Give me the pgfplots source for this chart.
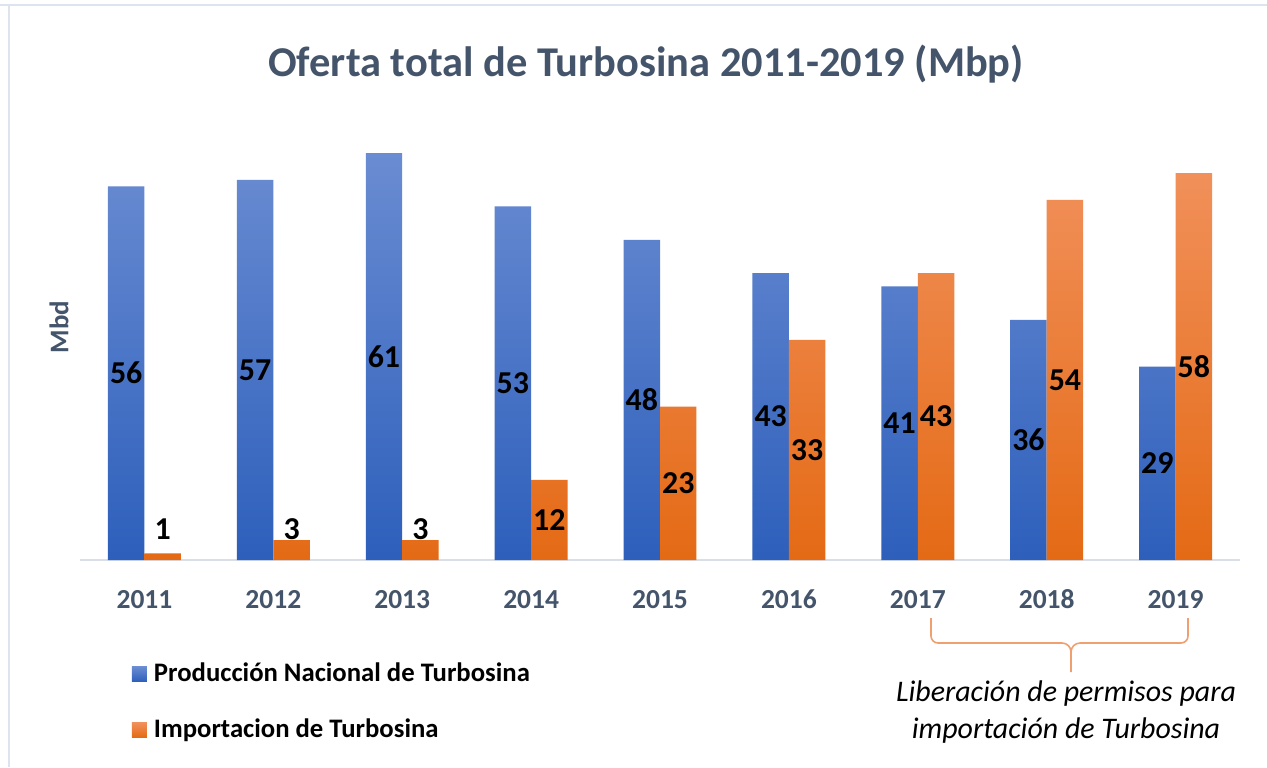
\documentclass[border=0pt]{standalone}
\usepackage{pgfplots}
\pgfplotsset{compat=1.18}
\usepackage{fontspec}
\setmainfont{Carlito}
\definecolor{slate}{HTML}{44546A}
\definecolor{bluetop}{HTML}{6A8CD2}
\definecolor{bluebot}{HTML}{2D5FBB}
\definecolor{orgtop}{HTML}{F1905A}
\definecolor{orgbot}{HTML}{E46A15}
\definecolor{frame}{HTML}{DEE4ED}
\definecolor{axline}{HTML}{D9DEE7}
\definecolor{brace}{HTML}{F0A070}

\pgfplotstableread{
x prod imp
0 56 1
1 57 3
2 61 3
3 53 12
4 48 23
5 43 33
6 41 43
7 36 54
8 29 58
}\datatable

\begin{document}
\begin{tikzpicture}
\begin{scope}[x=0.5bp,y=-0.5bp]
  \path[use as bounding box] (0,0) rectangle (1267,767);
  \fill[white] (0,0) rectangle (1267,767);
  \draw[frame, line width=1bp] (0,5) -- (1267,5);
  \draw[frame, line width=1bp] (9,5) -- (9,767);
  \node[anchor=base, text=slate, font=\fontsize{21.3}{25}\selectfont\bfseries] at (646,76) {Oferta total de Turbosina 2011-2019 (Mbp)};
  \node[rotate=90, anchor=center, text=slate, font=\fontsize{13.5}{16}\selectfont\bfseries] at (59,327) {Mbd};
  % brace annotation
  \draw[brace, line width=0.8bp] (931,618) -- (931,636) to[out=-90,in=180] (938,643) -- (1062,643) to[out=0,in=90] (1071,652) -- (1071,672);
  \draw[brace, line width=0.8bp] (1188,618) -- (1188,636) to[out=-90,in=0] (1181,643) -- (1080,643) to[out=180,in=90] (1071,652);
  \node[anchor=center, align=center, font=\fontsize{15}{18.5}\selectfont\itshape] at (1066,712) {Liberación de permisos para\\importación de Turbosina};
\end{scope}
\begin{axis}[
  at={(40bp,-280bp)}, anchor=south west,
  scale only axis, width=580bp, height=233.5bp,
  xmin=-0.5, xmax=8.5, ymin=0, ymax=70,
  axis y line=none,
  axis x line=bottom,
  x axis line style={draw=axline, line width=1bp, -},
  xtick={0,...,8},
  xticklabels={2011,2012,2013,2014,2015,2016,2017,2018,2019},
  major tick length=0pt,
  xticklabel style={anchor=base, yshift=-24bp, text=slate, font=\fontsize{13.8}{16}\selectfont\bfseries},
  /pgf/number format/assume math mode=true,
  bar width=0.283,
  nodes near coords,
  visualization depends on={y \as \rawy},
  every node near coord/.append style={anchor=center, text=black, inner sep=0pt,
     font=\fontsize{16}{19}\selectfont\bfseries,
     shift={(axis direction cs:0,{ifthenelse(\rawy<5,4.6-\rawy,-\rawy/2)})}},
  legend style={at={(rel axis cs:0.0448,-0.2163)}, anchor=north west, draw=none, fill=none,
     inner sep=0pt, outer sep=0pt, row sep=15bp, column sep=3.5bp,
     nodes={inner sep=0pt, text height=10bp, text depth=3bp},
     font=\fontsize{13.4}{16}\selectfont\bfseries},
  legend cell align=left,
  legend image code/.code={\fill[#1, draw=none] (0bp,-3.75bp) rectangle (7.5bp,3.75bp);},
]
\addplot[ybar, bar shift=-0.1415, draw=none, top color=bluetop, bottom color=bluebot,
  every node near coord/.append style={xshift=-9.12bp}] table[x=x, y=prod] {\datatable};
\addlegendentry{Producción Nacional de Turbosina}
\addplot[ybar, bar shift=0.1415, draw=none, top color=orgtop, bottom color=orgbot,
  every node near coord/.append style={xshift=9.12bp}] table[x=x, y=imp] {\datatable};
\addlegendentry{Importacion de Turbosina}
\end{axis}
\end{tikzpicture}
\end{document}
